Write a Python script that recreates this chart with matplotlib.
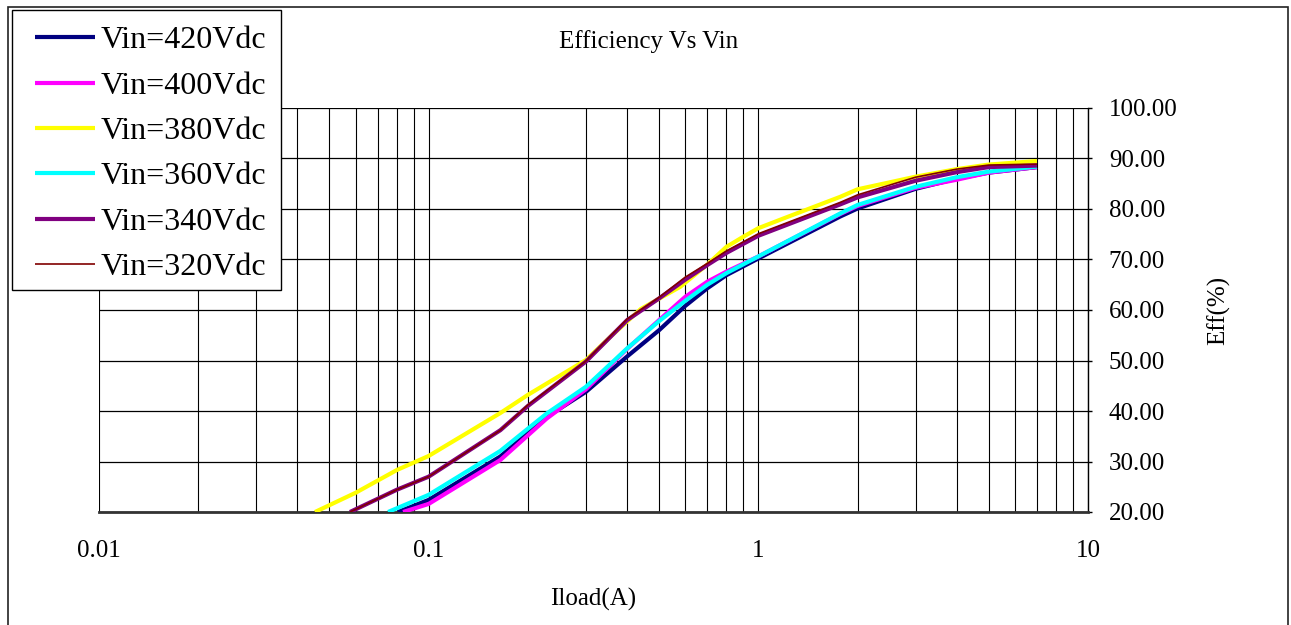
import matplotlib
matplotlib.use("Agg")
import matplotlib.pyplot as plt
from matplotlib.patches import Rectangle
from matplotlib.ticker import FixedLocator, NullFormatter, FixedFormatter

# Efficiency curves: load current (A) and efficiency (%) for each input voltage
i_420 = [0.0807, 0.1, 0.165, 0.228, 0.3, 0.4, 0.5, 0.6, 0.7, 0.8, 1.0, 1.77, 2.0, 3.0, 4.0, 5.0, 7.0]
eff_420 = [20.0, 22.4, 31.0, 38.8, 43.8, 50.8, 56.0, 60.8, 64.3, 66.9, 70.2, 78.5, 80.1, 84.0, 86.0, 87.2, 88.3]

i_400 = [0.0836, 0.1, 0.165, 0.228, 0.3, 0.4, 0.5, 0.6, 0.7, 0.8, 1.0, 1.77, 2.0, 3.0, 4.0, 5.0, 7.0]
eff_400 = [20.0, 21.6, 30.3, 38.5, 44.3, 52.3, 58.0, 62.6, 65.6, 67.6, 70.6, 79.0, 80.6, 84.2, 85.8, 87.2, 88.3]

i_380 = [0.0452, 0.06, 0.08, 0.1, 0.165, 0.2, 0.3, 0.36, 0.44, 0.58, 0.7, 0.8, 0.9, 1.0, 1.2, 1.77, 2.0, 3.0, 4.0, 5.0, 7.0]
eff_380 = [20.0, 23.8, 28.3, 31.1, 39.6, 43.2, 50.1, 55.0, 60.2, 64.6, 69.0, 72.5, 74.5, 76.2, 78.2, 82.4, 83.9, 86.4, 87.9, 88.8, 89.5]

i_360 = [0.0753, 0.1, 0.165, 0.228, 0.3, 0.4, 0.5, 0.6, 0.7, 0.8, 1.0, 1.77, 2.0, 3.0, 4.0, 5.0, 7.0]
eff_360 = [20.0, 23.4, 32.1, 39.5, 44.8, 52.4, 57.8, 61.8, 65.0, 67.3, 70.6, 79.1, 80.8, 84.4, 86.3, 87.4, 88.4]

i_340 = [0.0577, 0.08, 0.1, 0.165, 0.2, 0.3, 0.4, 0.5, 0.6, 0.7, 0.8, 1.0, 1.77, 2.0, 3.0, 4.0, 5.0, 7.0]
eff_340 = [20.0, 24.4, 27.0, 36.2, 41.0, 49.8, 58.0, 62.3, 66.0, 68.9, 71.3, 74.7, 80.9, 82.3, 85.6, 87.3, 88.3, 88.6]

i_320 = [0.0577, 0.08, 0.1, 0.165, 0.2, 0.3, 0.4, 0.5, 0.6, 0.7, 0.8, 1.0, 1.77, 2.0, 3.0, 4.0, 5.0, 7.0]
eff_320 = [20.0, 24.4, 27.0, 36.2, 41.2, 49.9, 58.2, 62.5, 66.5, 69.2, 71.7, 75.1, 81.3, 82.8, 86.3, 87.9, 88.7, 88.9]

labels = ["Vin=420Vdc", "Vin=400Vdc", "Vin=380Vdc", "Vin=360Vdc", "Vin=340Vdc", "Vin=320Vdc"]
colors = ["#000080", "#FF00FF", "#FFFF00", "#00FFFF", "#800080", "#800000"]
widths = [3.0, 3.0, 3.0, 3.0, 3.0, 1.2]

x_ticks = [0.01, 0.1, 1, 10]
x_tick_labels = ["0.01", "0.1", "1", "10"]
y_ticks = [20, 30, 40, 50, 60, 70, 80, 90, 100]
y_tick_labels = ["%.2f" % v for v in y_ticks]

FONT = "Liberation Serif"
W, H = 1291, 625

fig = plt.figure(figsize=(W / 100, H / 100), dpi=100)
fig.patch.set_facecolor("white")

# outer frame
fig.add_artist(Rectangle((8 / W, -0.02), (1288 - 8) / W, 1 - 7 / H + 0.02,
                         transform=fig.transFigure, fill=False,
                         edgecolor="#222222", linewidth=1.2))

ax = fig.add_axes([99 / W, (H - 512) / H, (1088 - 99) / W, (512 - 108) / H])
ax.set_xscale("log")
ax.set_xlim(0.01, 10)
ax.set_ylim(20, 100)

# gridlines at every 1-2-...-9 step of each decade and every 10 %
minor = [m * 10.0 ** e for e in (-2, -1, 0) for m in range(2, 10)]
for xv in minor + x_ticks:
    ax.axvline(xv, color="black", linewidth=0.8, zorder=1)
for yv in y_ticks:
    ax.axhline(yv, color="black", linewidth=0.9, zorder=1)

series = [(i_420, eff_420), (i_400, eff_400), (i_380, eff_380),
          (i_360, eff_360), (i_340, eff_340), (i_320, eff_320)]
for (xs, ys), lab, col, lw in zip(series, labels, colors, widths):
    ax.plot(xs, ys, color=col, linewidth=lw, label=lab, zorder=3,
            solid_joinstyle="round", solid_capstyle="butt")

for side in ("top", "left"):
    ax.spines[side].set_visible(False)
ax.spines["right"].set_linewidth(1.0)
ax.spines["bottom"].set_linewidth(2.0)
ax.spines["bottom"].set_color("#333333")

ax.xaxis.set_major_locator(FixedLocator(x_ticks))
ax.xaxis.set_major_formatter(FixedFormatter(x_tick_labels))
ax.xaxis.set_minor_locator(FixedLocator(minor))
ax.xaxis.set_minor_formatter(NullFormatter())
ax.tick_params(axis="x", which="both", length=0, pad=20, labelsize=18)

ax.yaxis.tick_right()
ax.yaxis.set_major_locator(FixedLocator(y_ticks))
ax.yaxis.set_major_formatter(FixedFormatter(y_tick_labels))
ax.tick_params(axis="y", which="major", direction="out", length=3, width=1,
               pad=12, labelsize=18)
for lbl in ax.get_xticklabels() + ax.get_yticklabels():
    lbl.set_fontfamily(FONT)

ax.set_xlabel("Iload(A)", fontsize=18, family=FONT)
ax.xaxis.set_label_coords(0.5, -(588 - 512) / 404)
ax.set_ylabel("Eff(%)", fontsize=18, family=FONT)
ax.yaxis.set_label_position("right")
ax.yaxis.set_label_coords((1219 - 99) / 989, 0.5)
ax.yaxis.label.set_verticalalignment("center")

fig.text(649 / W, 1 - 42 / H, "Efficiency Vs Vin", ha="center", va="center",
         fontsize=18, family=FONT)

# legend box and its entries
fig.add_artist(Rectangle((12 / W, 1 - 290 / H), (281 - 12) / W, (290 - 10) / H,
                         transform=fig.transFigure, facecolor="white",
                         edgecolor="black", linewidth=1.0, zorder=9))
handles, names = ax.get_legend_handles_labels()
leg = fig.legend(handles, names, loc="upper left", bbox_to_anchor=(35 / W, 1 - 26 / H),
                 bbox_transform=fig.transFigure, borderaxespad=0,
                 prop={"family": FONT, "size": 23}, frameon=False,
                 handlelength=1.88, handletextpad=0.19, labelspacing=0.5,
                 borderpad=0)
leg.set_zorder(10)

fig.savefig("out.png", dpi=100)
